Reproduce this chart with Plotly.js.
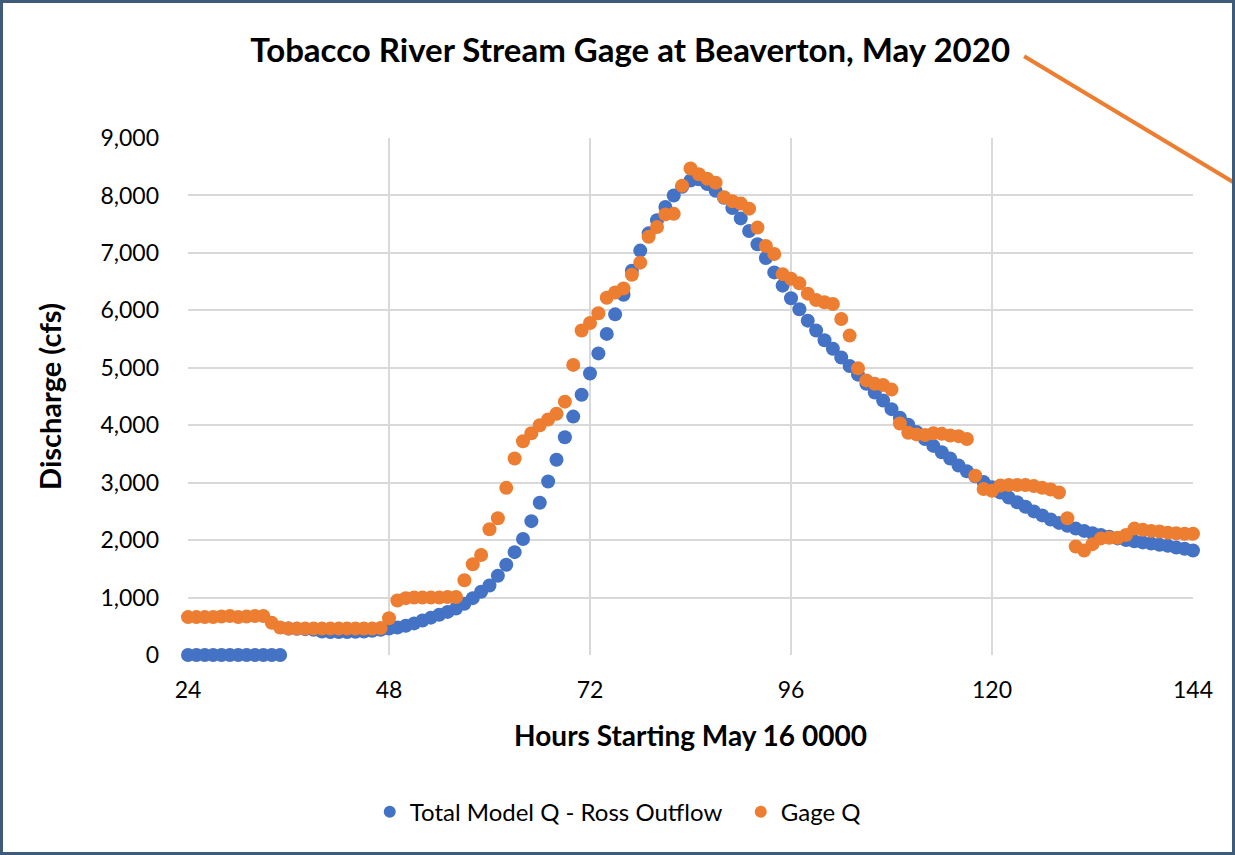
<!DOCTYPE html>
<html>
<head>
<meta charset="utf-8">
<script src="https://cdn.plot.ly/plotly-3.0.1.min.js"></script>
<style>
  html, body { margin: 0; padding: 0; background: #ffffff; }
  #wrap { width: 1235px; height: 855px; box-sizing: border-box; border: 3px solid #3e5c7a; background: #ffffff; }
  #chart { width: 1229px; height: 849px; }
</style>
</head>
<body>
<div id="wrap"><div id="chart"></div></div>
<script>
// Hours (x), 24..144
const hours = [];
for (let h = 24; h <= 144; h++) hours.push(h);

// Total Model Q - Ross Outflow (cfs), hours 24..144
const modelQ = [
  0, 0, 0, 0, 0, 0, 0, 0, 0, 0, 0, 0,                 // 24-35
  460, 455, 450, 440, 410, 400, 400, 400, 405, 410, 420, 440, // 36-47
  460, 480, 510, 550, 600, 650, 700, 750, 810, 890,   // 48-57
  990, 1100, 1210, 1380, 1570, 1790, 2020, 2330, 2650, 3020, // 58-67
  3400, 3790, 4150, 4530, 4900, 5250, 5590, 5930, 6270, 6690, // 68-77
  7040, 7340, 7570, 7800, 8000, 8150, 8260, 8280, 8200, 8080, // 78-87
  7960, 7780, 7600, 7380, 7150, 6910, 6660, 6430, 6210, 6020, // 88-97
  5820, 5650, 5480, 5330, 5180, 5030, 4880, 4720, 4570, 4430, // 98-107
  4280, 4130, 4010, 3880, 3760, 3640, 3530, 3420, 3300, 3200, // 108-117
  3110, 3010, 2920, 2830, 2740, 2660, 2580, 2500, 2430, 2360, // 118-127
  2300, 2250, 2200, 2160, 2120, 2090, 2060, 2030, 2000, 1980, // 128-137
  1960, 1940, 1920, 1900, 1870, 1850, 1820                   // 138-144
];

// Gage Q (cfs), hours 24..144
const gageQ = [
  660, 660, 660, 660, 670, 680, 660, 670, 680, 680, 560, 480, // 24-35
  460, 460, 460, 460, 460, 460, 460, 460, 460, 460, 460, 470, // 36-47
  640, 950, 990, 1000, 1000, 1000, 1000, 1010, 1010, 1300,    // 48-57
  1580, 1740, 2190, 2380, 2910, 3420, 3720, 3860, 4000, 4100, // 58-67
  4200, 4410, 5050, 5650, 5780, 5950, 6220, 6310, 6380, 6620, // 68-77
  6830, 7280, 7450, 7670, 7680, 8170, 8470, 8370, 8290, 8220, // 78-87
  7970, 7900, 7860, 7770, 7440, 7120, 6980, 6630, 6550, 6470, // 88-97
  6290, 6180, 6140, 6110, 5850, 5560, 4990, 4780, 4720, 4700, // 98-107
  4620, 4030, 3870, 3840, 3830, 3860, 3850, 3820, 3810, 3760, // 108-117
  3120, 2890, 2860, 2950, 2960, 2960, 2960, 2940, 2910, 2880, // 118-127
  2830, 2380, 1890, 1820, 1930, 2030, 2040, 2040, 2090, 2200, // 128-137
  2180, 2160, 2150, 2130, 2120, 2110, 2110                   // 138-144
];

const xTicks = [24, 48, 72, 96, 120, 144];
const yTicks = [0, 1000, 2000, 3000, 4000, 5000, 6000, 7000, 8000, 9000];
const yTickText = ["0", "1,000", "2,000", "3,000", "4,000", "5,000", "6,000", "7,000", "8,000", "9,000"];

const FONT = "Lato, 'Open Sans', sans-serif";

const traces = [
  {
    type: 'scatter', mode: 'markers', name: 'Total Model Q - Ross Outflow',
    x: hours, y: modelQ, cliponaxis: false,
    marker: { color: '#4472C4', size: 14, line: { width: 0 } }
  },
  {
    type: 'scatter', mode: 'markers', name: 'Gage Q',
    x: hours, y: gageQ, cliponaxis: false,
    marker: { color: '#ED7D31', size: 14, line: { width: 0 } }
  }
];

const layout = {
  width: 1229, height: 849,
  paper_bgcolor: '#ffffff', plot_bgcolor: '#ffffff',
  margin: { l: 185, r: 39, t: 135, b: 197 },
  font: { family: FONT, color: '#000000', size: 23 },
  title: {
    text: '<b>Tobacco River Stream Gage at Beaverton, May 2020</b>',
    font: { family: FONT, size: 33, color: '#000000' },
    xref: 'paper', x: 0.44, xanchor: 'center',
    yref: 'container', y: 0.944, yanchor: 'middle'
  },
  xaxis: {
    range: [24, 144], tickvals: xTicks, ticktext: xTicks.map(String),
    showgrid: true, gridcolor: '#d9d9d9', gridwidth: 2,
    zeroline: false, showline: false,
    ticks: '', ticklabelstandoff: 19,
    tickfont: { family: FONT, size: 23, color: '#000000' },
    title: { text: '<b>Hours Starting May 16 0000</b>', font: { family: FONT, size: 28, color: '#000000' }, standoff: 24 }
  },
  yaxis: {
    range: [0, 9000], tickvals: yTicks, ticktext: yTickText,
    showgrid: true, gridcolor: '#d9d9d9', gridwidth: 2,
    zeroline: false, showline: false,
    ticks: '', ticklabelstandoff: 28,
    tickfont: { family: FONT, size: 23, color: '#000000' },
    title: { text: '<b>Discharge (cfs)</b>', font: { family: FONT, size: 29, color: '#000000' }, standoff: 30 }
  },
  showlegend: true,
  legend: {
    orientation: 'h', x: 0.55, xanchor: 'center', y: -0.304, yanchor: 'middle',
    font: { family: FONT, size: 24, color: '#000000' },
    itemsizing: 'constant', entrywidthmode: 'pixels', entrywidth: 326
  },
  shapes: [
    { type: 'line', xref: 'paper', yref: 'paper', x0: 0.832, y0: 1.158, x1: 1.045, y1: 0.909,
      line: { color: '#ED7D31', width: 4 } }
  ]
};

Plotly.newPlot('chart', traces, layout, { displayModeBar: false, staticPlot: true });
</script>
</body>
</html>
